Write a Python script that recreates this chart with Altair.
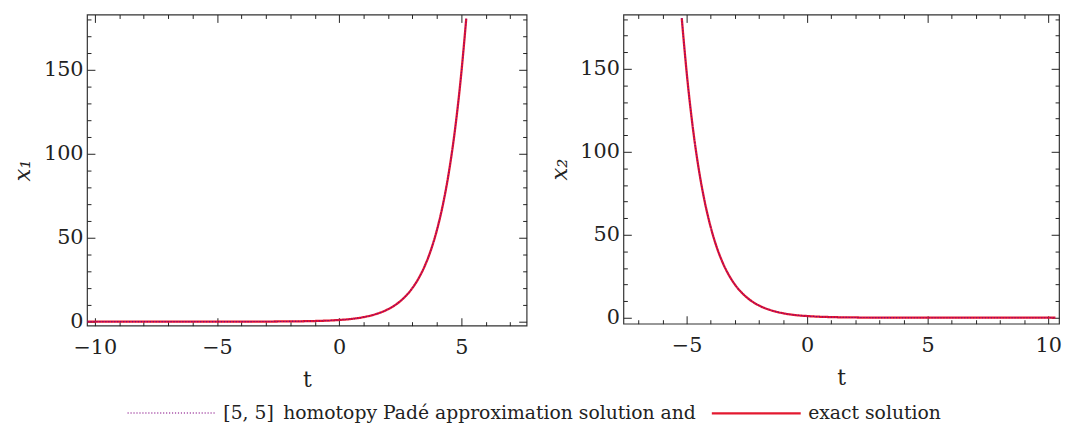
import altair as alt
import pandas as pd

# ---- data ----
PADE = "[5, 5]\u2002homotopy Padé approximation solution and"
EXACT = "exact solution"

t1 = [-10.3, -9, -8, -7, -6, -5, -4, -3, -2, -1.5, -1, -0.5, 0, 0.5, 1, 1.5, 2,
      2.5, 3, 3.25, 3.5, 3.75, 4, 4.25, 4.5, 4.75, 5, 5.1, 5.2]
x1 = [0, 0, 0, 0, 0, 0, 0.02, 0.05, 0.14, 0.22, 0.37, 0.6, 1.0, 1.6, 2.7, 4.5, 7.4,
      12.2, 20.1, 25.8, 33.1, 42.5, 54.6, 70.1, 90.0, 115.6, 148.4, 164.0, 180.5]

t2 = [-5.2, -5.1, -5, -4.75, -4.5, -4.25, -4, -3.75, -3.5, -3.25, -3, -2.5, -2,
      -1.5, -1, -0.5, 0, 0.5, 1, 1.5, 2, 3, 4, 5, 6, 7, 8, 9, 10.3]
x2 = [180.5, 164.0, 148.4, 115.6, 90.0, 70.1, 54.6, 42.5, 33.1, 25.8, 20.1, 12.2,
      7.4, 4.5, 2.7, 1.6, 1.0, 0.6, 0.37, 0.22, 0.14, 0.05, 0.02, 0, 0, 0, 0, 0, 0]

y_major = [0, 50, 100, 150]
y_minor = [10, 20, 30, 40, 60, 70, 80, 90, 110, 120, 130, 140, 160, 170, 180]
x1_major = [-10, -5, 0, 5]
x1_minor = [v for v in range(-10, 8) if v % 5 != 0]
x2_major = [-5, 0, 5, 10]
x2_minor = [v for v in range(-7, 11) if v % 5 != 0]

FONT = "DejaVu Serif"
INK = "#222222"
PURPLE = "#800080"
RED = "#e3182f"


def legend_spec():
    return alt.Legend(
        title=None, orient="none", legendX=40, legendY=357,
        direction="horizontal", symbolType="stroke", symbolSize=8100,
        labelFont=FONT, labelFontSize=19, labelColor=INK, labelLimit=0,
        labelOffset=6, columnPadding=10,
    )


def tick_axis(orient, offset, values, size):
    return alt.Axis(orient=orient, offset=offset, values=values, labels=False,
                    ticks=True, tickSize=size, tickColor=INK, tickWidth=1,
                    domain=False, grid=False, title=None, minExtent=0)


def panel(t, v, ytitle, xdom, ydom, xmaj, xmin, w, h):
    ex = pd.DataFrame({"t": t, "v": v, "s": EXACT})
    pa = pd.DataFrame({"t": t, "v": v, "s": PADE})
    xs = alt.Scale(domain=xdom, nice=False, zero=False)
    ys = alt.Scale(domain=ydom, nice=False, zero=False)

    color = alt.Color("s:N", scale=alt.Scale(domain=[PADE, EXACT], range=[PURPLE, RED]),
                      legend=legend_spec())
    dash = alt.StrokeDash("s:N", scale=alt.Scale(domain=[PADE, EXACT], range=[[1.2, 1.8], [1, 0]]),
                          legend=legend_spec())
    sw = alt.StrokeWidth("s:N", scale=alt.Scale(domain=[PADE, EXACT], range=[1.1, 2.3]),
                         legend=legend_spec())

    xlab = alt.Axis(orient="bottom", values=xmaj, ticks=False, domain=False, grid=False,
                    labelFont=FONT, labelFontSize=21, labelColor=INK, labelPadding=11,
                    title="t", titleFont=FONT, titleFontSize=22, titleFontWeight="normal",
                    titleColor=INK, titlePadding=13)
    ylab = alt.Axis(orient="left", values=y_major, ticks=False, domain=False, grid=False,
                    labelFont=FONT, labelFontSize=21, labelColor=INK, labelPadding=4,
                    title=ytitle, titleFont=FONT, titleFontSize=23, titleFontStyle="italic",
                    titleFontWeight="normal", titleColor=INK, titlePadding=9)

    exact = alt.Chart(ex).mark_line(interpolate="monotone").encode(
        x=alt.X("t:Q", scale=xs, axis=xlab),
        y=alt.Y("v:Q", scale=ys, axis=ylab),
        color=color, strokeDash=dash, strokeWidth=sw,
    )
    pade = alt.Chart(pa).mark_line(interpolate="monotone").encode(
        x=alt.X("t:Q", scale=xs, axis=tick_axis("top", -h, xmaj, 8)),
        y=alt.Y("v:Q", scale=ys, axis=tick_axis("right", -w, y_major, 8)),
        color=color, strokeDash=dash, strokeWidth=sw,
    )
    inv = []
    for xo, yo, xv, yv, sz in [("top", "right", xmin, y_minor, 4),
                               ("bottom", "left", xmaj, y_major, 8),
                               ("bottom", "left", xmin, y_minor, 4)]:
        inv.append(alt.Chart(ex).mark_line(opacity=0).encode(
            x=alt.X("t:Q", scale=xs, axis=tick_axis(xo, -h, xv, sz)),
            y=alt.Y("v:Q", scale=ys, axis=tick_axis(yo, -w, yv, sz)),
        ))
    return alt.layer(exact, pade, *inv).resolve_axis(x="independent", y="independent").properties(
        width=w, height=h)


left = panel(t1, x1, "x\u2081", [-10.32, 7.67], [-2.4, 183.0], x1_major, x1_minor, 445, 315)
right = panel(t2, x2, "x\u2082", [-7.62, 10.45], [-3.6, 182.7], x2_major, x2_minor, 441, 313)

chart = alt.hconcat(left, right, spacing=19).properties(
    padding={"left": 3, "top": 2, "right": 0, "bottom": 0}
).configure(background="white").configure_view(
    stroke="#333333", strokeWidth=1.2
).configure_legend(labelFont=FONT, labelFontSize=19, labelColor=INK)

chart.save("out.html", embed_options={"renderer": "svg", "actions": False})
